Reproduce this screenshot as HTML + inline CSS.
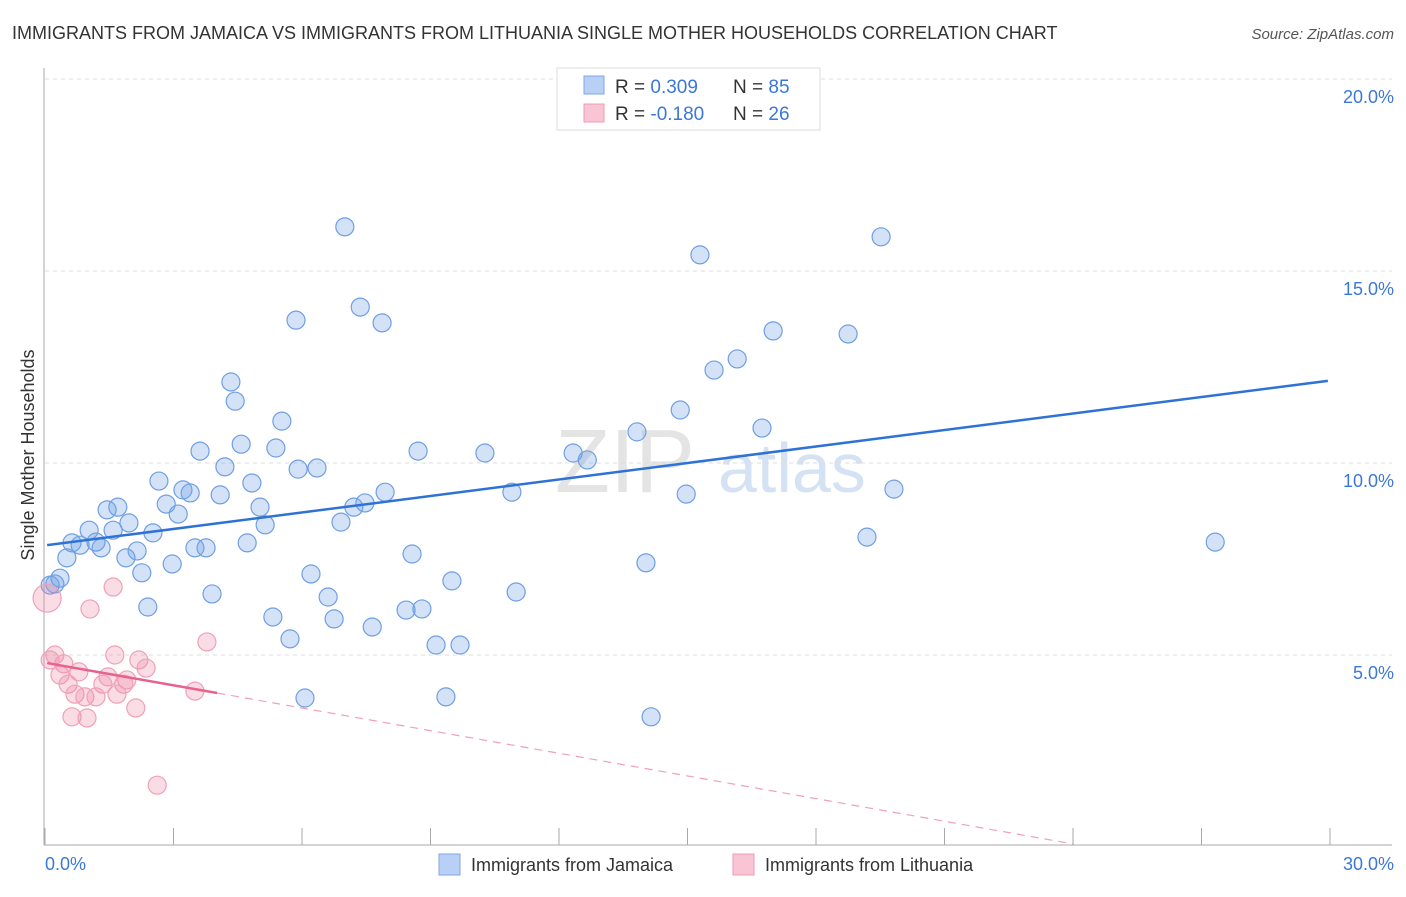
<!DOCTYPE html>
<html><head><meta charset="utf-8"><style>
body{margin:0;background:#fff;font-family:"Liberation Sans",sans-serif;}
svg text{font-family:"Liberation Sans",sans-serif;}
</style></head><body>
<svg width="1406" height="892" xmlns="http://www.w3.org/2000/svg">
<text x="12" y="39" font-size="18" fill="#333">IMMIGRANTS FROM JAMAICA VS IMMIGRANTS FROM LITHUANIA SINGLE MOTHER HOUSEHOLDS CORRELATION CHART</text>
<text x="1394" y="39" font-size="15" fill="#555" font-style="italic" text-anchor="end">Source: ZipAtlas.com</text>
<text x="555" y="492" font-size="90" fill="#e4e4e4" font-family="Liberation Serif">ZIP</text>
<text x="718" y="492" font-size="70" fill="#d5e2f3">atlas</text>
<g id="grid"></g>
<g id="axes"></g>
<g id="pts"></g>
<g id="lines"></g>
<text transform="translate(34,455) rotate(-90)" font-size="18" fill="#333" text-anchor="middle">Single Mother Households</text>
<text x="45" y="870" font-size="18" fill="#3b78d8">0.0%</text>
<text x="1394" y="870" font-size="18" fill="#3b78d8" text-anchor="end">30.0%</text>
<g>
<rect x="557" y="68" width="263" height="62" fill="#fff" stroke="#ddd"/>
<rect x="584" y="76" width="20" height="18" fill="#b8d0f5" stroke="#7fa6e6"/>
<rect x="584" y="104" width="20" height="18" fill="#f9c4d4" stroke="#f09ab4"/>
<text x="615" y="93" font-size="19" fill="#333">R = <tspan fill="#3b78d8">0.309</tspan><tspan x="733">N = </tspan><tspan fill="#3b78d8">85</tspan></text>
<text x="615" y="120" font-size="19" fill="#333">R = <tspan fill="#3b78d8">-0.180</tspan><tspan x="733">N = </tspan><tspan fill="#3b78d8">26</tspan></text>
</g>
<g>
<rect x="439" y="854" width="21" height="21" fill="#b8d0f5" stroke="#7fa6e6"/>
<text x="471" y="871" font-size="18" fill="#333">Immigrants from Jamaica</text>
<rect x="733" y="854" width="21" height="21" fill="#f9c4d4" stroke="#f09ab4"/>
<text x="765" y="871" font-size="18" fill="#333">Immigrants from Lithuania</text>
</g>
</svg>
<script>
const yTicks=[5,10,15,20];
const xTicks=[0,3,6,9,12,15,18,21,24,27,30];
const jamX=[7.00,19.52,15.29,5.86,7.36,7.87,17.00,18.75,16.16,15.62,4.34,4.44,5.53,14.83,13.82,16.74,4.58,3.62,5.39,8.71,10.27,12.33,12.66,4.20,5.91,6.35,2.66,3.22,3.39,4.83,4.09,7.94,10.90,14.97,19.82,2.83,1.70,1.45,7.21,7.47,3.11,5.02,1.96,6.91,5.14,1.03,1.59,2.52,0.63,0.82,1.19,1.31,4.72,19.19,27.32,2.15,3.50,3.76,1.89,0.51,8.57,2.97,14.03,2.26,6.21,9.50,0.35,0.23,0.12,11.00,3.90,6.61,2.40,8.43,8.80,5.32,6.75,7.64,5.72,9.13,9.69,6.07,9.36,14.15];
const jamY=[16.15,15.89,15.42,13.72,14.06,13.65,13.44,13.36,12.71,12.42,12.11,11.61,11.09,11.38,10.81,10.91,10.49,10.31,10.39,10.31,10.26,10.26,10.08,9.90,9.84,9.87,9.53,9.30,9.22,9.48,9.17,9.24,9.24,9.19,9.32,8.93,8.85,8.78,8.85,8.96,8.67,8.85,8.44,8.46,8.39,8.25,8.25,8.18,7.92,7.86,7.94,7.79,7.92,8.07,7.94,7.71,7.79,7.79,7.53,7.53,7.63,7.37,7.40,7.14,7.11,6.93,7.00,6.85,6.82,6.64,6.59,6.51,6.25,6.17,6.20,5.99,5.94,5.73,5.42,5.26,5.26,3.88,3.91,3.39];
const litX=[0.05,1.59,1.05,3.78,0.23,0.44,1.63,2.19,2.36,0.79,0.35,1.47,1.91,1.84,0.54,1.35,3.50,0.70,0.93,1.19,1.68,2.12,0.63,0.98,2.62,0.12];
const litY=[6.48,6.77,6.20,5.34,5.00,4.77,5.00,4.87,4.66,4.56,4.48,4.43,4.35,4.24,4.24,4.24,4.06,3.98,3.91,3.91,3.98,3.62,3.39,3.36,1.61,4.87];
const jamLine=[[0.05,7.86],[29.95,12.14]];
const litLine=[[0.05,4.79],[4.02,4.01]];
const litDash=[[4.02,4.01],[24.0,0.08]];
const NS='http://www.w3.org/2000/svg';
const xs=v=>45+v/30*1285;
const ys=v=>847-v/5*192;
function mk(tag,attrs,parent){const e=document.createElementNS(NS,tag);for(const k in attrs)e.setAttribute(k,attrs[k]);document.getElementById(parent).appendChild(e);return e;}
yTicks.forEach(t=>{
 const g=mk('line',{x1:45,x2:1392,y1:ys(t),y2:ys(t),stroke:'#ddd','stroke-dasharray':'4,4'},'grid');
 
 
 const tx=mk('text',{x:1394,y:ys(t)+24,'font-size':18,fill:'#3b78d8','text-anchor':'end'},'grid');
 tx.textContent=t.toFixed(1)+'%';
 
 
});
let a=mk('line',{x1:44,x2:44,y1:68,y2:845,stroke:'#aaa'},'axes');


a=mk('line',{x1:44,x2:1392,y1:845,y2:845,stroke:'#aaa'},'axes');


xTicks.forEach(t=>{
 const l=mk('line',{x1:xs(t),x2:xs(t),y1:828,y2:845,stroke:'#aaa'},'axes');
 
 
});
jamX.forEach((x,i)=>{
 const c=mk('circle',{cx:xs(x),cy:ys(jamY[i]),r:9,fill:'rgba(110,160,230,0.3)',stroke:'#6f9fe3','stroke-width':1.2},'pts');
 
 
});
litX.forEach((x,i)=>{
 const c=mk('circle',{cx:xs(x),cy:ys(litY[i]),r:i==0?14:9,fill:'rgba(240,140,170,0.3)',stroke:'#f0a0b8','stroke-width':1.2},'pts');
 
 
});
let L=mk('line',{x1:xs(jamLine[0][0]),y1:ys(jamLine[0][1]),x2:xs(jamLine[1][0]),y2:ys(jamLine[1][1]),stroke:'#2f72d6','stroke-width':2.5},'lines');


L=mk('line',{x1:xs(litLine[0][0]),y1:ys(litLine[0][1]),x2:xs(litLine[1][0]),y2:ys(litLine[1][1]),stroke:'#e8628d','stroke-width':2.5},'lines');


L=mk('line',{x1:xs(litDash[0][0]),y1:ys(litDash[0][1]),x2:xs(litDash[1][0]),y2:ys(litDash[1][1]),stroke:'#f0a0b8','stroke-width':1.2,'stroke-dasharray':'8,6'},'lines');


</script>
</body></html>
